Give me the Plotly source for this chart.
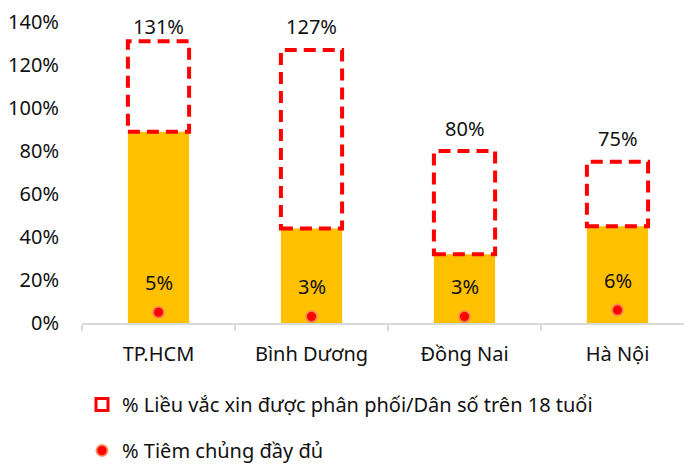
import plotly.graph_objects as go

provinces = ["TP.HCM", "Bình Dương", "Đồng Nai", "Hà Nội"]
vaccinated_base = [89, 44, 32, 45]       # yellow bar height (%)
doses_per_adult = [131, 127, 80, 75]     # top of dashed box (%)
fully_vaccinated = [5, 3, 3, 6]          # red dots (%)

FONT = "Noto Sans"
FS = 20
BAR_W = 0.4
Y_MAX = 140

fig = go.Figure()

fig.add_trace(go.Bar(
    x=provinces, y=vaccinated_base, width=BAR_W,
    marker=dict(color="#FFC000", line=dict(width=0)),
    showlegend=False, hoverinfo="skip",
))

# legend entry for the dashed boxes
fig.add_trace(go.Bar(
    x=[None], y=[None], name="% Liều vắc xin được phân phối/Dân số trên 18 tuổi",
    marker=dict(color="white", line=dict(color="#FF0000", width=3)),
    legendgroup="a",
))

fig.add_trace(go.Scatter(
    x=provinces, y=fully_vaccinated, mode="markers",
    name="% Tiêm chủng đầy đủ",
    marker=dict(color="#FF0000", size=11, line=dict(color="rgba(245,140,90,0.85)", width=2)),
    legendgroup="b",
))

# page body has an 8px default margin, so offsets are reduced by 8
margin = dict(l=74, r=6, t=14, b=151)
px_per_pct = (466 - margin["t"] - margin["b"]) / Y_MAX

for i, p in enumerate(provinces):
    fig.add_shape(
        type="rect", xref="x", yref="y",
        x0=i - BAR_W / 2, x1=i + BAR_W / 2,
        y0=vaccinated_base[i], y1=doses_per_adult[i],
        line=dict(color="#FF0000", width=4, dash="12px,7px"),
        fillcolor="rgba(0,0,0,0)",
    )
    # keep the top label inside the plot area, like Excel does
    shift = min(23, (Y_MAX - doses_per_adult[i]) * px_per_pct - 4)
    fig.add_annotation(
        x=p, y=doses_per_adult[i], text=f"{doses_per_adult[i]}%",
        showarrow=False, yshift=shift, font=dict(size=FS, color="#111"),
    )
    fig.add_annotation(
        x=p, y=fully_vaccinated[i], text=f"{fully_vaccinated[i]}%",
        showarrow=False, yshift=30, font=dict(size=FS, color="#111"),
    )

fig.update_layout(
    width=692, height=466,
    margin=dict(**margin, autoexpand=False),
    plot_bgcolor="white", paper_bgcolor="white",
    font=dict(family=FONT, size=FS, color="#111"),
    barmode="overlay", bargap=0.6,
    legend=dict(
        x=0.0, y=-0.206, xanchor="left", yanchor="top",
        orientation="v", tracegroupgap=17, itemwidth=30,
        font=dict(size=FS),
    ),
)
fig.update_xaxes(
    showline=True, linecolor="#D9D9D9", linewidth=2,
    ticks="outside", tickson="boundaries", ticklen=6, tickcolor="#D9D9D9",
    tickwidth=2, showgrid=False, ticklabelstandoff=12, automargin=False,
)
fig.update_yaxes(
    range=[0, Y_MAX], dtick=20, ticksuffix="%", showgrid=False,
    zeroline=False, showline=False, ticks="", ticklabelstandoff=22,
    automargin=False,
)

fig.write_html("out.html")
